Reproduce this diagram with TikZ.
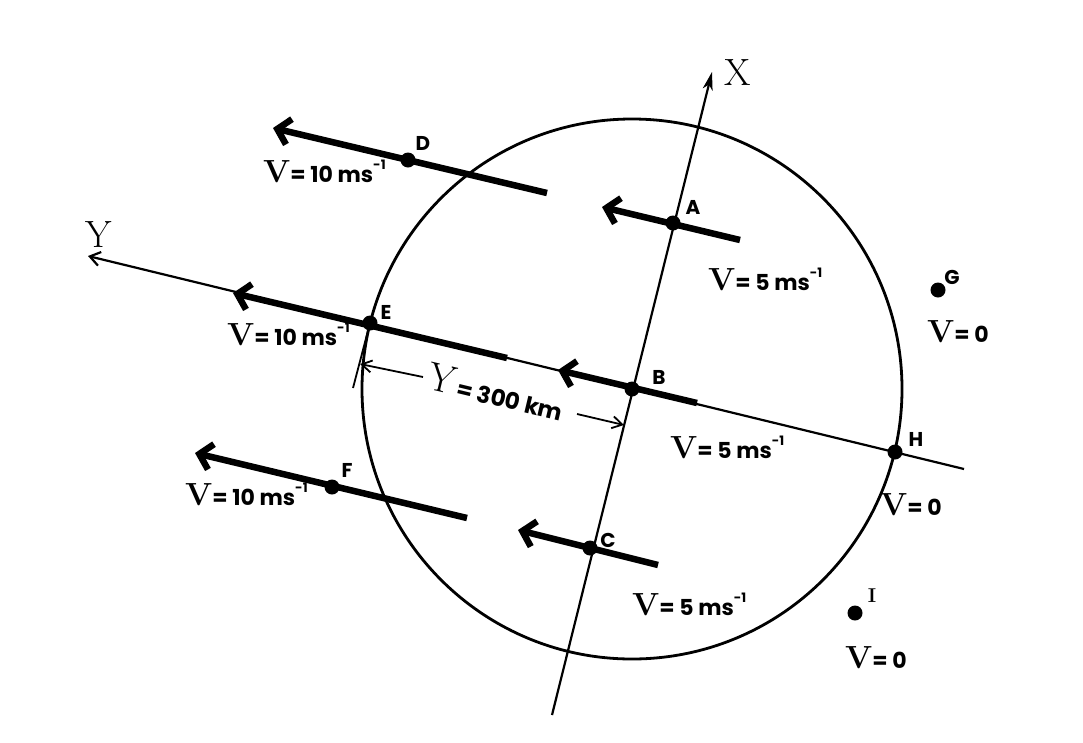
\documentclass[tikz,border=0pt]{standalone}
\usepackage{fontspec}
\newfontfamily\lab{Poppins}
\usetikzlibrary{arrows.meta}
\newcommand\vtext[1]{{\bfseries\fontsize{32}{36}\selectfont V}{\lab\bfseries\fontsize{22}{26}\selectfont #1}}
\newcommand\supm{\raisebox{0.55em}{\fontsize{13}{13}\selectfont -1}}
\begin{document}
\begin{tikzpicture}[x=1pt,y=-1pt,
  axisline/.style={line width=2.2pt},
  vel/.style={line width=6.5pt, -{Straight Barb[length=12pt,width=26pt]}},
  dot/.style={circle, fill=black, inner sep=0pt, minimum size=15pt},
  ptlab/.style={font=\lab\bfseries\fontsize{20}{22}\selectfont, inner sep=0pt},
  vlab/.style={anchor=base west, inner sep=0pt},
  big/.style={font=\fontsize{38}{40}\selectfont, inner sep=0pt},
  dim/.style={line width=1.8pt, -{Straight Barb[length=10pt,width=12pt]}}
]
\useasboundingbox (0,0) rectangle (1083,742);
% axes
\coordinate (Xend) at (552,715);
\coordinate (Xtip) at (712,72);
\coordinate (Yend) at (964,469);
\coordinate (Ytip) at (88,256);
\draw[axisline, -{Stealth[length=18pt,width=10pt,inset=5pt]}] (Xend) -- (Xtip);
\draw[axisline, -{Straight Barb[length=10pt,width=14pt]}] (Yend) -- (Ytip);
\node[big] (Xlab) at (738,73) {X};
\node[big] (Ylab) at (99,235) {Y};
% circle
\coordinate (O) at (632,389);
\draw[line width=2.8pt] (O) circle[radius=270pt];
% velocity arrows
\coordinate (Dtail) at (547,193); \coordinate (Dtip) at (273,128);
\coordinate (Atail) at (740,240); \coordinate (Atip) at (602,207);
\coordinate (Etail) at (507,358); \coordinate (Etip) at (233,293);
\coordinate (Btail) at (697,403); \coordinate (Btip) at (558,370);
\coordinate (Ftail) at (467,518); \coordinate (Ftip) at (195,453);
\coordinate (Ctail) at (658,565); \coordinate (Ctip) at (518,530);
\foreach \p in {D,A,E,B,F,C}{\draw[vel] (\p tail) -- (\p tip);}
% points
\node[dot] (A) at (673,223) {};
\node[dot] (B) at (632,389) {};
\node[dot] (C) at (590,548) {};
\node[dot] (D) at (408,160) {};
\node[dot] (E) at (370,323) {};
\node[dot] (F) at (332,487) {};
\node[dot] (G) at (938,290) {};
\node[dot] (H) at (895,452) {};
\node[dot] (I) at (855,613) {};
\node[ptlab] (lA) at (693,207) {A};
\node[ptlab] (lB) at (659,377) {B};
\node[ptlab] (lC) at (608,540) {C};
\node[ptlab] (lD) at (423,143) {D};
\node[ptlab] (lE) at (386,312) {E};
\node[ptlab] (lF) at (347,470) {F};
\node[ptlab] (lG) at (952,277) {G};
\node[ptlab] (lH) at (916,439) {H};
\node[inner sep=0pt, font=\bfseries\fontsize{20}{20}\selectfont] (lI) at (872,596) {I};
% velocity labels
\node[vlab] (vD) at (263,182) {\vtext{= 10 ms\supm}};
\node[vlab] (vE) at (227,345) {\vtext{= 10 ms\supm}};
\node[vlab] (vF) at (185,505) {\vtext{= 10 ms\supm}};
\node[vlab] (vA) at (708,290) {\vtext{= 5 ms\supm}};
\node[vlab] (vB) at (670,458) {\vtext{= 5 ms\supm}};
\node[vlab] (vC) at (632,615) {\vtext{= 5 ms\supm}};
\node[vlab] (vG) at (927,342) {\vtext{= 0}};
\node[vlab] (vH) at (880,515) {\vtext{= 0}};
\node[vlab] (vI) at (845,668) {\vtext{= 0}};
% dimension
\coordinate (tickend) at (353,388);
\draw[line width=1.8pt] (E) -- (tickend);
\coordinate (dL) at (423,377); \coordinate (dLtip) at (360,364);
\coordinate (dR) at (577,414); \coordinate (dRtip) at (624,425);
\draw[dim] (dL) -- (dLtip);
\draw[dim] (dR) -- (dRtip);
\node[inner sep=0pt, rotate=-13.5] (dimlab) at (496,392) {{\fontsize{40}{40}\selectfont Y} {\lab\bfseries\fontsize{23}{26}\selectfont = 300 km}};
\end{tikzpicture}
\end{document}
